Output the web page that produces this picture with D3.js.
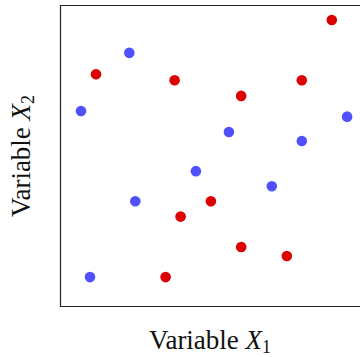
<!DOCTYPE html>
<html><head><meta charset="utf-8">
<script src="https://cdn.jsdelivr.net/npm/d3@7"></script>
<style>body{margin:0;background:#fff}</style>
</head><body>
<svg id="c" width="360" height="357"></svg>
<script>
const redX = [9.06, 1.20, 3.82, 8.06, 6.04, 5.03, 4.02, 6.04, 7.56, 3.52];
const redY = [9.50, 7.70, 7.50, 7.50, 6.98, 3.48, 2.97, 1.96, 1.66, 0.96];
const blueX = [2.31, 0.70, 5.63, 8.06, 9.57, 4.53, 7.06, 2.51, 1.00];
const blueY = [8.41, 6.48, 5.78, 5.48, 6.29, 4.48, 3.98, 3.48, 0.96];

const svg = d3.select("#c");
const x = d3.scaleLinear().domain([0, 10]).range([60, 360]);
const y = d3.scaleLinear().domain([0, 10]).range([306, 5]);

svg.append("path")
  .attr("d", `M${x(10)+2},${y(10)+0.5}H${x(0)+0.5}V${y(0)+0.5}H${x(10)+2}`)
  .attr("fill", "none").attr("stroke", "#222").attr("stroke-width", 1.2);

const series = [
  {xs: blueX, ys: blueY, color: "#5050ff"},
  {xs: redX, ys: redY, color: "#dd0000"}
];
series.forEach(s => {
  svg.append("g").selectAll("circle").data(s.xs).join("circle")
    .attr("cx", d => x(d)).attr("cy", (d, i) => y(s.ys[i]))
    .attr("r", 5.3).attr("fill", s.color);
});

const font = "'Liberation Serif', 'DejaVu Serif', serif";
function label(t, sub) {
  t.attr("font-family", font).attr("font-size", 27).attr("fill", "#111");
  t.append("tspan").text("Variable ");
  t.append("tspan").attr("font-style", "italic").text("X");
  t.append("tspan").attr("font-size", 18).attr("dy", 4).text(sub);
}
const xl = svg.append("text").attr("x", 210).attr("y", 349).attr("text-anchor", "middle");
label(xl, "1");
const yl = svg.append("text").attr("transform", "translate(30,156) rotate(-90)").attr("text-anchor", "middle");
label(yl, "2");
</script>
</body></html>
